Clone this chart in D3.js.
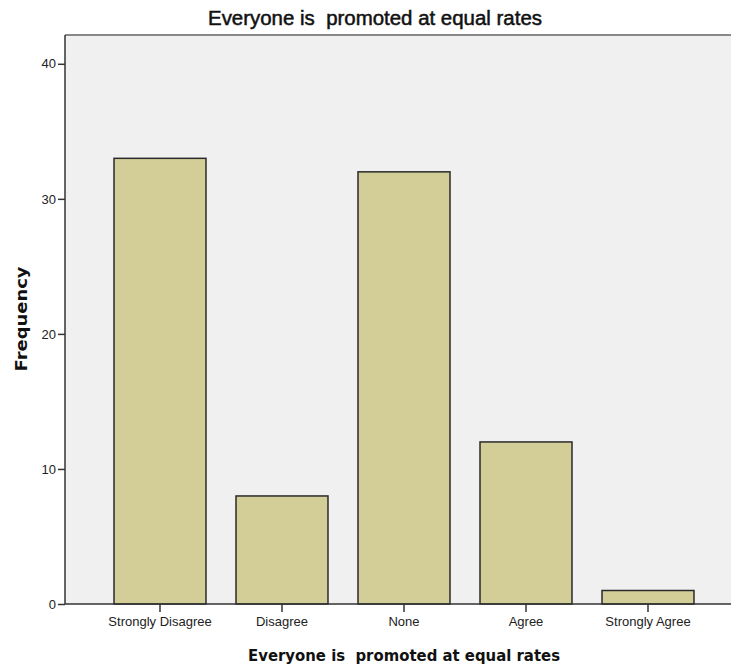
<!DOCTYPE html>
<html><head><meta charset="utf-8">
<script src="https://cdn.jsdelivr.net/npm/d3@7"></script>
<style>body{margin:0;background:#fff}svg{display:block}text{white-space:pre}</style>
</head><body>
<script>
const categories = ["Strongly Disagree", "Disagree", "None", "Agree", "Strongly Agree"];
const frequencies = [33, 8, 32, 12, 1];
const yTicks = [0, 10, 20, 30, 40];
const chartTitle = "Everyone is  promoted at equal rates";
const xTitle = "Everyone is  promoted at equal rates";
const yTitle = "Frequency";

const W = 731, H = 669;
const svg = d3.select("body").append("svg").attr("width", W).attr("height", H);
const pLeft = 65, pTop = 35, pRight = 731, pBottom = 604;

const y = d3.scaleLinear().domain([0, 40]).range([pBottom, 63.8]);
const x = d3.scaleBand().domain(categories).range([99, 709]).paddingInner(0.246).paddingOuter(0.123);

const narrow = "'Liberation Sans Narrow','Arial Narrow','Liberation Sans',sans-serif";

svg.append("rect").attr("x", pLeft).attr("y", pTop).attr("width", pRight - pLeft).attr("height", pBottom - pTop).attr("fill", "#f0f0f0");
svg.append("line").attr("x1", pLeft).attr("x2", pRight).attr("y1", pTop).attr("y2", pTop).attr("stroke", "#888").attr("stroke-width", 2);

svg.selectAll("rect.bar").data(categories).join("rect").attr("class", "bar")
  .attr("x", d => x(d)).attr("width", x.bandwidth())
  .attr("y", (d, i) => y(frequencies[i])).attr("height", (d, i) => pBottom - y(frequencies[i]))
  .attr("fill", "#d3ce97").attr("stroke", "#2a2a2a").attr("stroke-width", 1.5);

const yAxis = svg.append("g").attr("transform", `translate(${pLeft},0)`)
  .call(d3.axisLeft(y).tickValues(yTicks).tickSize(7).tickPadding(2).tickSizeOuter(0));
yAxis.select(".domain").attr("stroke", "#333").attr("stroke-width", 1.5).attr("d", `M0,${pTop}V${pBottom}`);
yAxis.selectAll(".tick line").attr("stroke", "#333").attr("stroke-width", 1.5);
yAxis.selectAll(".tick text").attr("font-family", narrow).attr("font-size", 13).attr("fill", "#222");

const xAxis = svg.append("g").attr("transform", `translate(0,${pBottom})`)
  .call(d3.axisBottom(x).tickSize(8).tickPadding(5).tickSizeOuter(0));
xAxis.select(".domain").attr("stroke", "#333").attr("stroke-width", 1.5).attr("d", `M${pLeft},0H${pRight}`);
xAxis.selectAll(".tick line").attr("stroke", "#333").attr("stroke-width", 1.5);
xAxis.selectAll(".tick text").attr("font-family", narrow).attr("font-size", 13).attr("fill", "#222");

svg.append("text").attr("x", 375).attr("y", 25).attr("text-anchor", "middle")
  .attr("font-family", narrow).attr("font-size", 20).attr("fill", "#111")
  .attr("stroke", "#111").attr("stroke-width", 0.5)
  .attr("textLength", 334).attr("lengthAdjust", "spacingAndGlyphs").text(chartTitle);

svg.append("text").attr("x", 404).attr("y", 661).attr("text-anchor", "middle")
  .attr("font-family", "'DejaVu Sans',sans-serif").attr("font-weight", "bold").attr("font-size", 15).attr("fill", "#111")
  .attr("textLength", 312).attr("lengthAdjust", "spacingAndGlyphs").text(xTitle);

svg.append("text").attr("transform", "translate(27,319) rotate(-90)").attr("text-anchor", "middle")
  .attr("font-family", "'DejaVu Sans',sans-serif").attr("font-weight", "bold").attr("font-size", 15).attr("fill", "#111")
  .attr("textLength", 105).attr("lengthAdjust", "spacingAndGlyphs").text(yTitle);
</script>
</body></html>
